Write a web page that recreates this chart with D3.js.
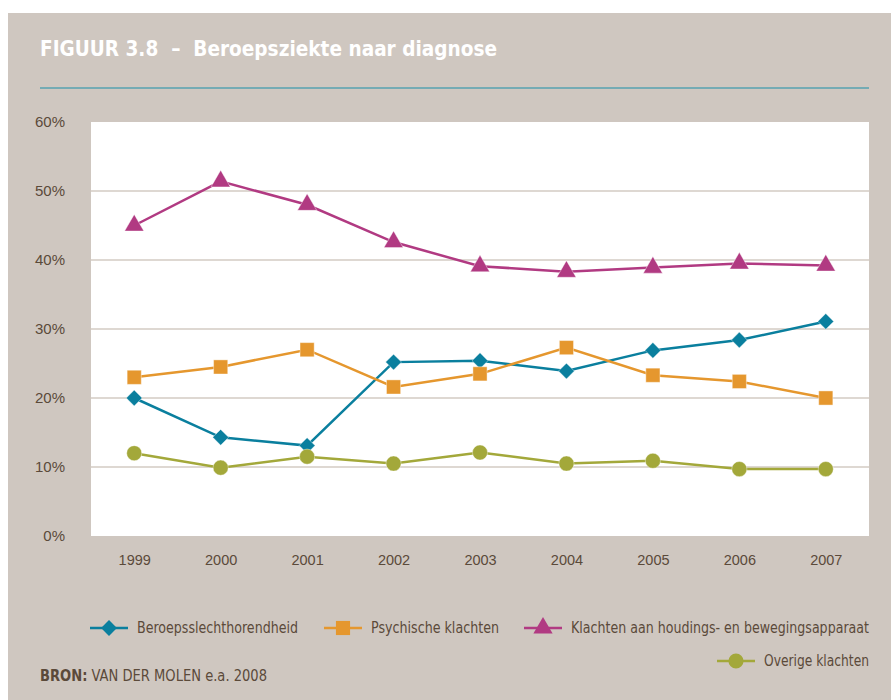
<!DOCTYPE html>
<html><head><meta charset="utf-8">
<script src="https://cdn.jsdelivr.net/npm/d3@7"></script>
<style>
body{margin:0;background:#fff;}
svg{display:block;}
</style></head>
<body>
<svg id="chart" width="891" height="700"></svg>
<script>
const years = ["1999","2000","2001","2002","2003","2004","2005","2006","2007"];
const gehoor = [20.0,14.3,13.1,25.2,25.4,23.9,26.9,28.4,31.1];
const psychisch = [23.0,24.5,27.0,21.6,23.5,27.3,23.3,22.4,20.0];
const houding = [45.0,51.4,48.0,42.6,39.1,38.3,38.9,39.5,39.2];
const overig = [12.0,9.9,11.5,10.5,12.1,10.5,10.9,9.7,9.7];
const yTicks = [0,10,20,30,40,50,60];
const seriesNames = ["Beroepsslechthorendheid","Psychische klachten","Klachten aan houdings- en bewegingsapparaat","Overige klachten"];

const series = [
  {name:seriesNames[0], values:gehoor, color:"#0a7f9e", sym:d3.symbolDiamond2, size:160},
  {name:seriesNames[1], values:psychisch, color:"#e5972e", sym:d3.symbolSquare, size:200},
  {name:seriesNames[2], values:houding, color:"#b13a82", sym:d3.symbolTriangle, size:160},
  {name:seriesNames[3], values:overig, color:"#a3a83a", sym:d3.symbolCircle, size:180}
];

const svg = d3.select("#chart");
const textCol = "#5b4a3a";
const font = "'Liberation Sans Narrow','DejaVu Sans Condensed',sans-serif";

svg.append("rect").attr("x",8).attr("y",13).attr("width",883).attr("height",687).attr("fill","#cfc7c0");

svg.append("text").attr("x",40).attr("y",56).attr("fill","#fff")
  .attr("font-family",font).attr("font-weight","bold").attr("font-size",21)
  .attr("xml:space","preserve")
  .attr("textLength",457).attr("lengthAdjust","spacingAndGlyphs")
  .text("FIGUUR 3.8  \u2013  Beroepsziekte naar diagnose");

svg.append("line").attr("x1",40).attr("x2",869).attr("y1",88).attr("y2",88)
  .attr("stroke","#1a8fa8").attr("stroke-width",1.2);

const L=91, R=869, T=122, B=536;
svg.append("rect").attr("x",L).attr("y",T).attr("width",R-L).attr("height",B-T).attr("fill","#fff");

const x = d3.scalePoint().domain(years).range([L,R]).padding(0.5);
const y = d3.scaleLinear().domain([0,60]).range([B,T]);

// grid
svg.append("g").selectAll("line").data(yTicks.filter(d=>d>0&&d<60)).join("line")
  .attr("x1",L).attr("x2",R).attr("y1",d=>y(d)).attr("y2",d=>y(d))
  .attr("stroke","#d3cbc3").attr("stroke-width",1.5);

// y axis
const yAxis = svg.append("g").attr("transform",`translate(${L},0)`)
  .call(d3.axisLeft(y).tickValues(yTicks).tickFormat(d=>d+"%").tickSize(0).tickPadding(26));
yAxis.select(".domain").remove();
yAxis.selectAll("text").attr("fill",textCol).attr("font-size",15)
  .attr("font-family","'Liberation Sans',Arial,sans-serif");

// x axis
const xAxis = svg.append("g").attr("transform",`translate(0,${B})`)
  .call(d3.axisBottom(x).tickSize(0).tickPadding(19));
xAxis.select(".domain").remove();
xAxis.selectAll("text").attr("fill",textCol).attr("font-size",14.5)
  .attr("font-family","'Liberation Sans',Arial,sans-serif");

const line = d3.line().x((d,i)=>x(years[i])).y(d=>y(d));

series.forEach(s=>{
  svg.append("path").attr("d",line(s.values)).attr("fill","none")
    .attr("stroke",s.color).attr("stroke-width",2.5);
  svg.append("g").selectAll("path").data(s.values).join("path")
    .attr("transform",(d,i)=>`translate(${x(years[i])},${y(d)})`)
    .attr("d",d3.symbol().type(s.sym).size(s.size))
    .attr("fill",s.color).attr("stroke","#fff").attr("stroke-opacity",0.5).attr("stroke-width",0.8);
});

// legend
const legPos = [{lx:90,ly:628,w:161},{lx:324,ly:628,w:128},{lx:524,ly:628,w:298},{lx:717,ly:661,w:105}];
series.forEach((s,i)=>{
  const p = legPos[i];
  const g = svg.append("g").attr("transform",`translate(${p.lx},${p.ly})`);
  g.append("line").attr("x1",0).attr("x2",38).attr("y1",0).attr("y2",0)
    .attr("stroke",s.color).attr("stroke-width",2.5);
  g.append("path").attr("transform","translate(19,0)")
    .attr("d",d3.symbol().type(s.sym).size(s.size)).attr("fill",s.color);
  g.append("text").attr("x",47).attr("y",5).attr("fill",textCol)
    .attr("font-family",font).attr("font-size",15)
    .attr("textLength",p.w).attr("lengthAdjust","spacingAndGlyphs").text(s.name);
});

// source
const src = svg.append("text").attr("x",40).attr("y",681).attr("fill",textCol)
  .attr("font-family",font).attr("font-size",15)
  .attr("textLength",227).attr("lengthAdjust","spacingAndGlyphs");
src.append("tspan").attr("font-weight","bold").text("BRON:");
src.append("tspan").text(" VAN DER MOLEN e.a. 2008");
</script>
</body></html>
